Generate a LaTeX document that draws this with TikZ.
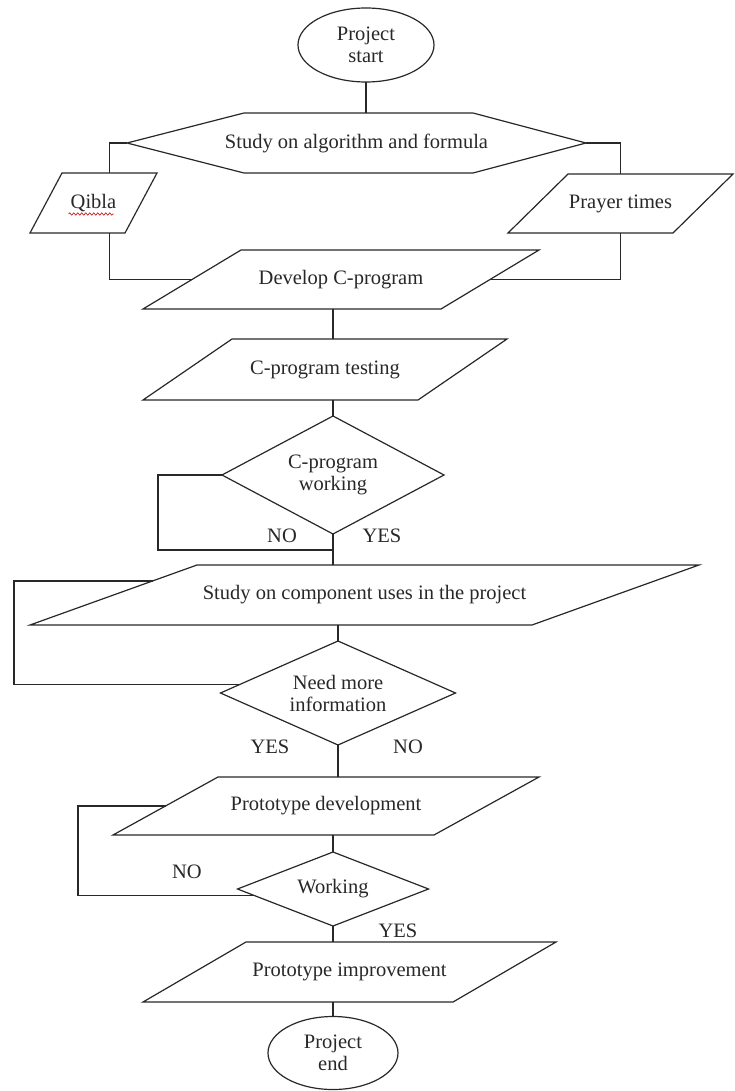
\documentclass[tikz,border=0pt]{standalone}
\usepackage{fontspec}
\setmainfont{Liberation Serif}
\usepackage{tikz}
\usetikzlibrary{shapes.geometric, calc, decorations.pathmorphing}
\definecolor{ink}{RGB}{40, 40, 40}
\definecolor{spell}{RGB}{200, 30, 30}
\tikzstyle{terminal} = [ellipse, draw=ink, line width=1.2pt, inner sep=0pt, outer sep=0pt, align=center]
\tikzstyle{io} = [rectangle, inner sep=0pt, outer sep=0pt, align=center]
\tikzstyle{decision} = [diamond, draw=ink, line width=1.2pt, inner sep=0pt, outer sep=0pt, align=center]
\tikzstyle{line} = [draw=ink, line width=1.2pt]
\tikzstyle{answer} = [inner sep=0pt, text=ink]
% outline of a slanted io box: node name, horizontal offset of the top edge
\newcommand{\slantbox}[2]{%
  \draw[line] (#1.south west) -- ($(#1.north west)+(#2,0)$) -- (#1.north east)
    -- ($(#1.south east)+(-#2,0)$) -- cycle;}

\begin{document}
\begin{tikzpicture}[x=1pt, y=-1pt, font=\fontsize{20.5}{22}\selectfont, text=ink]
    \fill[white] (0,0) rectangle (735,1091);
    \useasboundingbox (0,0) rectangle (735,1091);

    % Start
    \node[terminal, minimum width=136, minimum height=74] (start) at (366,45) {Project\\start};

    % Study on algorithm (hexagon)
    \node[minimum width=459, minimum height=60, inner sep=0pt, outer sep=0pt] (hex) at (356.5,143) {Study on algorithm and formula};
    \draw[line] (hex.west) -- ($(hex.north west)+(117,0)$) -- ($(hex.north east)+(-113,0)$) -- (hex.east)
        -- ($(hex.south east)+(-113,0)$) -- ($(hex.south west)+(117,0)$) -- cycle;

    % Qibla and prayer times
    \node[io, minimum width=127, minimum height=60] (qibla) at (93.5,203) {Qibla};
    \slantbox{qibla}{32}
    \node[io, minimum width=225, minimum height=59] (prayer) at (620.5,203.5) {Prayer times};
    \slantbox{prayer}{60}

    % C-program
    \node[io, minimum width=396, minimum height=59] (dev) at (341,279.5) {Develop C-program};
    \slantbox{dev}{98}
    \node[io, minimum width=364, minimum height=61] (test) at (325,369.5) {C-program testing};
    \slantbox{test}{89}
    \node[decision, aspect=1.9, minimum width=222, minimum height=118] (cpw) at (333,475) {C-program\\working};

    % Components
    \node[io, minimum width=669, minimum height=60] (comp) at (364.5,595) {Study on component uses in the project};
    \slantbox{comp}{167}
    \node[decision, aspect=2.26, minimum width=235, minimum height=104] (need) at (338,693) {Need more\\information};

    % Prototype
    \node[io, minimum width=426, minimum height=58] (proto) at (326,806) {Prototype development};
    \slantbox{proto}{105}
    \node[decision, aspect=2.58, minimum width=191, minimum height=74] (work) at (333,889) {Working};
    \node[io, minimum width=413, minimum height=60] (improve) at (349.5,972) {Prototype improvement};
    \slantbox{improve}{103}

    % End
    \node[terminal, minimum width=130, minimum height=73] (finish) at (333,1053) {Project\\end};

    % Rails for the loops
    \coordinate (axis) at (333,0);
    \coordinate (railA) at (158,0);
    \coordinate (railB) at (14,0);
    \coordinate (railC) at (78,0);
    \coordinate (join) at (333,550);
    \coordinate (qtop) at ($(qibla.north)+(16,0)$);
    \coordinate (devL) at ($(dev.west)+(49,0)$);
    \coordinate (devR) at ($(dev.east)+(-49,0)$);
    \coordinate (compL) at ($(comp.west)+(122.5,-14)$);
    \coordinate (protoL) at ($(proto.west)+(52.5,0)$);

    % Connectors
    \draw[line] (start.south) -- (start.south |- hex.north);
    \draw[line] (hex.west) -| (qtop);
    \draw[line] (hex.east) -| (prayer.north);
    \draw[line] (qtop |- qibla.south) |- (devL);
    \draw[line] (prayer.south) |- (devR);
    \draw[line] (dev.south -| axis) -- (test.north -| axis);
    \draw[line] (test.south -| axis) -- (cpw.north);
    \draw[line] (cpw.south) -- (cpw.south |- comp.north);
    \draw[line] (cpw.west) -| (railA |- join) -- (join);
    \draw[line] (comp.south -| need.north) -- (need.north);
    \draw[line] (need.175) -| (railB |- compL) -- (compL);
    \draw[line] (need.south) -- (need.south |- proto.north);
    \draw[line] (proto.south -| work.north) -- (work.north);
    \draw[line] (work.185) -| (railC |- protoL) -- (protoL);
    \draw[line] (work.south) -- (work.south |- improve.north);
    \draw[line] (improve.south -| finish.north) -- (finish.north);

    % Answers
    \node[answer] (no1) at (282,536) {NO};
    \node[answer] (yes1) at (382,536) {YES};
    \node[answer] (yes2) at (270,747) {YES};
    \node[answer] (no2) at (408,747) {NO};
    \node[answer] (no3) at (187,872) {NO};
    \node[answer] (yes3) at (398,931) {YES};

    % Spelling mark under Qibla
    \draw[spell, line width=0.7pt, decorate, decoration={snake, amplitude=1.2pt, segment length=4pt}]
        ([shift={(-25,11)}]qibla.center) -- ++(45,0);
\end{tikzpicture}
\end{document}
